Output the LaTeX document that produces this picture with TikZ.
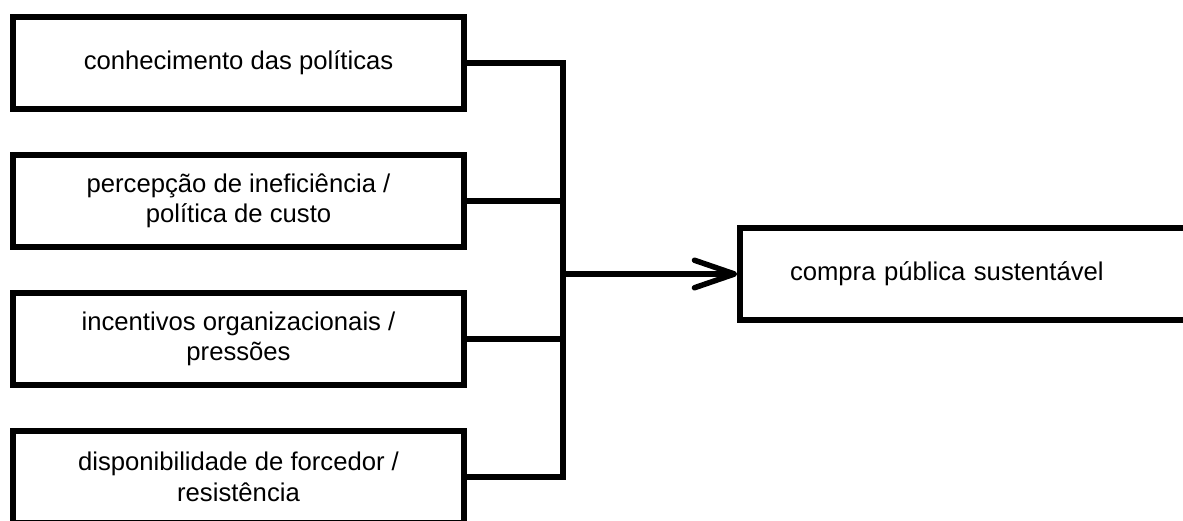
\documentclass[tikz,border=0pt]{standalone}
\usepackage{fontspec}
\setmainfont{Liberation Sans}
\usepackage{tikz}
\usetikzlibrary{positioning}
\usetikzlibrary{shapes,arrows.meta}
\tikzstyle{box} = [draw, line width=0.11cm, minimum width=9.02cm, minimum height=1.84cm, align=center, inner sep=0pt, font=\fontsize{14.6}{17.4}\selectfont]
\tikzstyle{line} = [draw, line width=0.11cm]

\begin{document}
\begin{tikzpicture}[auto]
\useasboundingbox (0, 0) rectangle (23.66, -10.42);
\node at (4.77, -1.26) [box] (p1) {conhecimento das políticas};
\node at (4.77, -4.02) [box] (p2) {percepção de ineficiência /\\ política de custo};
\node at (4.77, -6.78) [box] (p3) {incentivos organizacionais /\\ pressões};
\node at (4.77, -9.54) [box] (p4) {disponibilidade de forcedor /\\ resistência};

\node at (19.35, -5.48) [box, text width=7.1cm, align=left, inner xsep=1cm] (CPS) {compra pública sustentável};

\coordinate (m) at (11.26, -5.48);
\path [line] (p1.east) -| (m);
\path [line] (p2.east) -| (m);
\path [line] (p3.east) -| (m);
\path [line] (p4.east) -| (m);
\path [line, line cap=round, -{Straight Barb[length=0.8cm, width=0.55cm, round]}] (m) -- (CPS);
\end{tikzpicture}
\end{document}
